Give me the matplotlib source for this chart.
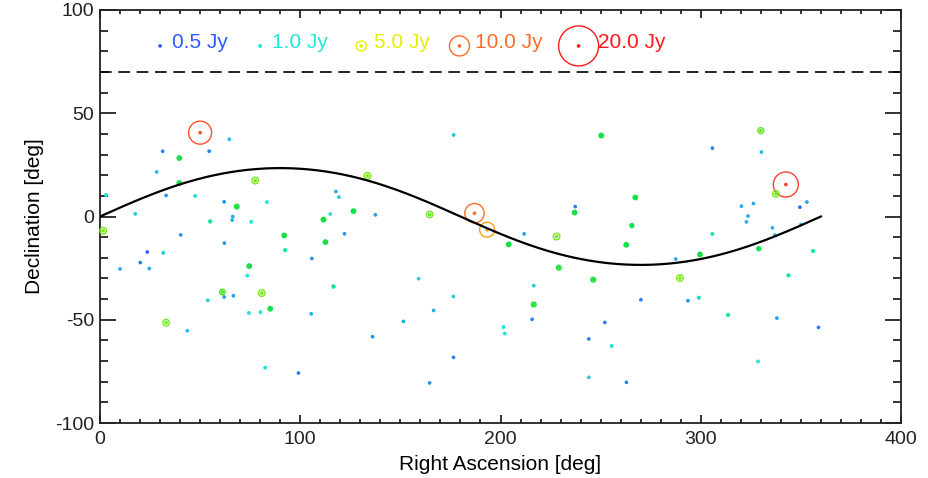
import numpy as np
import matplotlib
matplotlib.use('Agg')
import matplotlib.pyplot as plt
from matplotlib.colors import LinearSegmentedColormap

plt.rcParams['font.family'] = ['Liberation Sans', 'DejaVu Sans']
plt.rcParams['axes.unicode_minus'] = False

# Source catalogue: position (deg) and flux density (Jy)
ra = [50.0, 64.6, 31.3, 54.5, 39.6, 28.3, 39.6, 77.5, 3.0, 33.0,
      47.5, 62.0, 68.3, 83.3, 17.6, 66.3, 66.0, 55.0, 75.5, 1.6,
      40.3, 92.0, 62.1, 23.6, 31.6, 92.5, 10.0, 20.1, 24.6, 74.5,
      73.5, 61.1, 62.0, 66.6, 80.8, 53.8, 74.3, 80.1, 85.0, 33.0,
      43.6, 82.5, 99.1, 176.6, 133.6, 117.8, 119.3, 115.0, 126.6, 111.6,
      137.5, 164.6, 187.0, 193.3, 122.1, 112.6, 105.8, 116.6, 105.5, 159.1,
      176.5, 166.6, 151.5, 136.1, 176.5, 164.6, 250.3, 267.3, 237.3, 237.0,
      265.6, 211.8, 228.0, 204.1, 262.8, 287.5, 229.1, 246.3, 289.6, 216.6,
      216.6, 270.1, 215.8, 252.1, 201.5, 202.1, 244.1, 255.5, 244.1, 262.9,
      330.0, 305.8, 330.3, 342.5, 337.5, 320.3, 326.3, 353.0, 349.5, 323.6,
      322.8, 335.8, 350.0, 337.0, 305.8, 299.6, 329.0, 356.1, 293.6, 299.0,
      343.8, 313.6, 338.0, 358.8, 328.6]
dec = [40.6, 37.4, 31.6, 31.6, 28.3, 21.6, 16.2, 17.4, 10.4, 10.2,
       10.0, 7.1, 4.8, 7.0, 1.3, 0.0, -1.7, -2.4, -2.6, -6.9,
       -8.9, -9.2, -12.9, -17.2, -17.6, -16.3, -25.4, -22.3, -25.2, -24.0,
       -28.6, -36.6, -39.0, -38.4, -37.1, -40.6, -46.7, -46.3, -44.7, -51.4,
       -55.3, -73.2, -75.8, 39.5, 19.7, 12.1, 9.4, 1.2, 2.6, -1.5,
       0.8, 1.0, 1.6, -6.4, -8.4, -12.4, -20.3, -33.9, -47.1, -30.1,
       -38.7, -45.5, -50.8, -58.2, -68.2, -80.6, 39.2, 9.2, 4.8, 1.9,
       -4.4, -8.4, -9.7, -13.5, -13.7, -20.6, -24.8, -30.6, -29.8, -33.5,
       -42.6, -40.3, -49.8, -51.3, -53.5, -56.7, -59.3, -62.7, -77.9, -80.3,
       41.6, 33.1, 31.2, 15.5, 11.0, 5.0, 6.3, 7.0, 4.5, 0.2,
       -2.6, -5.5, -3.9, -9.0, -8.4, -18.4, -15.6, -16.7, -40.8, -39.3,
       -28.5, -47.7, -49.2, -53.7, -70.2]
flux = [11.5, 0.8, 0.6, 0.6, 2.2, 0.8, 2.2, 3.3, 1.0, 0.65,
        0.95, 0.65, 2.3, 1.0, 0.9, 0.75, 0.75, 1.4, 1.0, 3.3,
        0.65, 2.2, 0.65, 0.5, 0.9, 1.3, 0.75, 0.6, 0.75, 2.2,
        1.0, 2.8, 0.7, 0.7, 3.3, 0.9, 0.95, 1.0, 2.2, 3.3,
        0.8, 0.95, 0.6, 0.85, 3.3, 0.75, 0.9, 1.0, 2.2, 2.2,
        0.7, 3.2, 9.7, 7.5, 0.65, 2.2, 0.65, 1.5, 0.75, 0.9,
        0.9, 0.75, 0.75, 0.65, 0.6, 0.65, 2.2, 2.2, 0.6, 2.2,
        2.0, 0.7, 3.3, 2.2, 2.2, 0.75, 2.4, 2.4, 3.3, 0.9,
        2.4, 0.6, 0.6, 0.6, 1.0, 1.0, 0.6, 0.95, 0.9, 0.6,
        3.0, 0.6, 0.8, 12.5, 3.3, 0.75, 0.75, 0.75, 0.55, 0.75,
        0.75, 0.75, 0.8, 0.8, 1.2, 2.2, 2.0, 1.3, 0.65, 1.3,
        1.3, 1.3, 0.7, 0.6, 1.0]

# Flux key shown along the top of the plot
key_flux = [0.5, 1.0, 5.0, 10.0, 20.0]
key_ra = [30.0, 80.0, 130.5, 179.5, 239.0]
key_text_ra = [36.0, 86.0, 137.0, 187.5, 248.5]

# Colour scale in log(flux)
anchor_flux = [0.5, 1.0, 2.2, 5.0, 10.0, 12.5, 20.0]
anchor_col = ['#2a5cff', '#22e8d8', '#10e040', '#e4f000', '#ff6a28', '#ff4030', '#ff1818']
fmin, fmax = 0.5, 20.0
def fpos(f):
    return np.clip(np.log(np.asarray(f) / fmin) / np.log(fmax / fmin), 0, 1)
cmap = LinearSegmentedColormap.from_list(
    'flux', list(zip(fpos(anchor_flux), anchor_col)))

dpi = 100
px = 72.0 / dpi  # points per pixel

fig = plt.figure(figsize=(9.29, 4.78), dpi=dpi)
ax = fig.add_axes([100 / 929, 1 - 423 / 478, 801 / 929, 413 / 478])

def draw_sources(x, y, f):
    f = np.asarray(f)
    cols = cmap(fpos(f))
    # ring of radius ~ flux pixels plus a dot in the middle
    ax.scatter(x, y, s=(2 * f * px) ** 2, facecolors='none', edgecolors=cols,
               linewidths=1.0, zorder=3, clip_on=False)
    ax.scatter(x, y, s=7, c=cols, edgecolors='none', zorder=3, clip_on=False)

draw_sources(ra, dec, flux)

# Ecliptic in equatorial coordinates
eps = np.radians(23.44)
lam = np.radians(np.linspace(0, 360, 721))
ecl_ra = np.degrees(np.unwrap(np.arctan2(np.sin(lam) * np.cos(eps), np.cos(lam))))
ecl_dec = np.degrees(np.arcsin(np.sin(eps) * np.sin(lam)))
ax.plot(ecl_ra, ecl_dec, color='black', lw=1.6, zorder=4)

ax.axhline(70, color='black', lw=1.2, dashes=(7, 4), zorder=2)

# flux key
key_dec = 82.6
draw_sources(key_ra, [key_dec] * len(key_ra), key_flux)
for f, xt in zip(key_flux, key_text_ra):
    ax.text(xt, 84.5, f'{f:.1f} Jy', color=cmap(fpos(f)), fontsize=15,
            ha='left', va='center')

ax.set_xlim(0, 400)
ax.set_ylim(-100, 100)
ax.set_xticks([0, 100, 200, 300, 400])
ax.set_yticks([-100, -50, 0, 50, 100])
ax.set_xticks(np.arange(0, 401, 10), minor=True)
ax.set_yticks(np.arange(-100, 101, 10), minor=True)
ax.tick_params(axis='both', which='both', direction='in', top=True, right=True,
               width=1.3, labelsize=14, colors='#222222')
ax.tick_params(axis='x', which='major', length=6, pad=6)
ax.tick_params(axis='x', which='minor', length=3)
ax.tick_params(axis='y', which='major', length=11.5, pad=4)
ax.tick_params(axis='y', which='minor', length=6)
for sp in ax.spines.values():
    sp.set_linewidth(1.3)
    sp.set_color('#222222')

ax.set_xlabel('Right Ascension [deg]', fontsize=15, labelpad=5)
ax.set_ylabel('Declination [deg]', fontsize=15, labelpad=8)

fig.savefig('out.png', dpi=dpi)
